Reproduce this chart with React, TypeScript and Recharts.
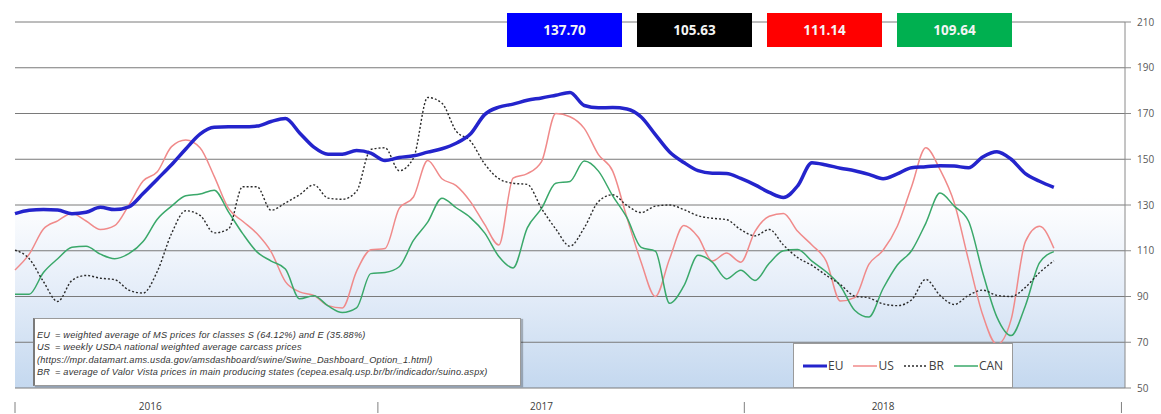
import { LineChart, Line, XAxis, YAxis, CartesianGrid } from "recharts";

// weekly prices, one point every 2 weeks starting week 0 of 2016
const WEEK_STEP = 2;

const eu = [
  126.2, 127.7, 128, 127.8, 126.2, 126.8, 129, 128, 129.2, 135,
  141.3, 147.6, 154.5, 161, 164, 164.2, 164.2, 164.5, 166.5, 167.8,
  161.5, 155.3, 152.2, 152.2, 153.8, 152.7, 149.4, 150.8, 151.5, 153.1,
  154.6, 157, 161, 169.5, 172.8, 174.1, 175.8, 176.8, 178, 179.2,
  173.5, 172.5, 172.6, 172, 168.5, 160.8, 153.2, 148.6, 145, 143.9,
  143.8, 141.6, 138.8, 135.5, 133.3, 138.4, 148.5, 147.5, 146.1, 145,
  143.4, 141.5, 143.6, 146.3, 146.7, 147.2, 147, 146.3, 151, 153.3,
  150, 143.7, 140.4, 137.7,
];

const us = [
  101.6, 108.5, 119.5, 123.1, 126.3, 123, 119.3, 121, 130, 140.5,
  144.5, 155.5, 158.4, 155, 142.5, 128.5, 122.9, 117.5, 109.5, 96.5,
  92, 90.5, 86, 85, 101, 110.4, 111, 128.5, 133.5, 149.5,
  141.5, 138.5, 131.5, 121.5, 112.5, 141.7, 143.7, 149, 170, 168.6,
  163.5, 152, 144.8, 124.5, 105, 90, 106.5, 121, 116, 105.5,
  109, 105, 118.5, 125.1, 126.3, 118.5, 112.5, 105.5, 88, 89.5,
  104, 110.2, 120.7, 138, 155, 145.5, 131, 106, 82, 69,
  80, 114, 120.7, 111.1,
];

const br = [
  110.3, 106.5, 96.5, 87.8, 97, 99.2, 98, 97.4, 92.8, 91.5,
  101, 117.5, 127.5, 125.5, 117.8, 119.5, 138, 138, 127.7, 130.9,
  134.5, 138.8, 133, 132.5, 136, 154.3, 155, 145, 150.5, 177,
  174.5, 162.3, 158, 148, 141.5, 139.5, 139, 128.5, 119.5, 112,
  120, 131.5, 134.5, 129.8, 126.7, 129.5, 130, 128, 125.3, 124.2,
  123.6, 119.2, 116.5, 119.3, 112.5, 107, 103.6, 99.3, 95.2, 90.2,
  89.4, 86.8, 86, 88.5, 97.5, 90.5, 86.5, 90.5, 92.8, 90.5,
  90, 94, 100.5, 105.6,
];

const can = [
  91, 91, 100.5, 106.5, 111.5, 112, 108.5, 106.5, 108.7, 114,
  123.8, 129.5, 134, 134.8, 136.5, 127, 117.5, 109.5, 105.5, 102,
  89, 90.3, 85.9, 83, 85, 100, 100.5, 103, 114.5, 122.5,
  133, 128.8, 124.5, 117.8, 107.5, 102.5, 120, 128.5, 139.5, 140.3,
  149.2, 144.8, 134, 124.5, 111.5, 109.8, 87, 94.6, 108, 105,
  97.7, 101.5, 97, 104.5, 110, 110.6, 105.5, 100.8, 94.6, 84,
  81, 93.5, 103.8, 110, 122, 135.2, 129.5, 123, 100.5, 81,
  72.9, 86, 104.8, 109.6,
];

const yTicks = [50, 70, 90, 110, 130, 150, 170, 190, 210];
const yearLabels = ["2016", "2017", "2018"];
const yearLabelWeeks = [19, 74, 122];
const yearBoundaryWeeks = [0, 51, 102.5, 155.5];

const lastValues = ["137.70", "105.63", "111.14", "109.64"];
const lastValueColors = ["#0000ff", "#000000", "#ff0000", "#00b050"];

const noteKeys = ["EU", "US", "", "BR"];
const noteTexts = [
  "= weighted average of MS prices for classes S (64.12%) and E (35.88%)",
  "= weekly USDA national weighted average carcass prices",
  "(https://mpr.datamart.ams.usda.gov/amsdashboard/swine/Swine_Dashboard_Option_1.html)",
  "= average of Valor Vista prices in main producing states (cepea.esalq.usp.br/br/indicador/suino.aspx)",
];

const series = [
  { key: "US", color: "#f08a8a", width: 1.5, dash: undefined },
  { key: "CAN", color: "#3aa86a", width: 1.5, dash: undefined },
  { key: "BR", color: "#2a2a2a", width: 1.4, dash: "2 2" },
  { key: "EU", color: "#2424cc", width: 3.5, dash: undefined },
];
const legendOrder = ["EU", "US", "BR", "CAN"];

const data = eu.map((v, i) => ({
  week: i * WEEK_STEP,
  EU: v,
  US: us[i],
  BR: br[i],
  CAN: can[i],
}));

const FONT = "'Open Sans', 'Liberation Sans', sans-serif";

function YearTick(props: any) {
  const { x, y, payload } = props;
  const idx = yearLabelWeeks.indexOf(payload.value);
  if (idx >= 0) {
    return (
      <text x={x} y={y + 14} textAnchor="middle" fontSize={10} fill="#404040" fontFamily={FONT}>
        {yearLabels[idx]}
      </text>
    );
  }
  return <line x1={x} x2={x} y1={y + 6} y2={y + 17} stroke="#808080" strokeWidth={1} />;
}

export default function App() {
  const allTicks = [...yearBoundaryWeeks, ...yearLabelWeeks].sort((a, b) => a - b);
  const seriesByKey = Object.fromEntries(series.map((s) => [s.key, s]));

  return (
    <div style={{ position: "absolute", left: 0, top: 0, width: 1161, height: 414, background: "#fff", fontFamily: FONT }}>
      {/* plot background gradient */}
      <div
        style={{
          position: "absolute",
          left: 15,
          top: 22,
          width: 1110,
          height: 366,
          background: "linear-gradient(to bottom, #ffffff 0%, #ffffff 48%, #e6eef9 72%, #c4d8ef 100%)",
        }}
      />

      <div style={{ position: "absolute", left: 0, top: 0 }}>
        <LineChart width={1161} height={414} data={data} margin={{ top: 22, right: 0, bottom: 0, left: 15 }}>
          <CartesianGrid vertical={false} stroke="#7a7a7a" strokeWidth={1} />
          <XAxis
            dataKey="week"
            type="number"
            domain={[0, 156]}
            ticks={allTicks}
            interval={0}
            tick={<YearTick />}
            tickLine={false}
            axisLine={false}
            height={26}
          />
          <YAxis
            orientation="right"
            domain={[50, 210]}
            ticks={yTicks}
            width={36}
            axisLine={{ stroke: "#8a8a8a" }}
            tickLine={{ stroke: "#8a8a8a" }}
            tickSize={6}
            tickMargin={6}
            tick={{ fontSize: 10, fill: "#595959", fontFamily: FONT }}
          />
          {series.map((s) => (
            <Line
              key={s.key}
              type="monotone"
              dataKey={s.key}
              stroke={s.color}
              strokeWidth={s.width}
              strokeDasharray={s.dash}
              dot={false}
              isAnimationActive={false}
            />
          ))}
        </LineChart>
      </div>

      {/* latest values */}
      {lastValues.map((v, i) => (
        <div
          key={v}
          style={{
            position: "absolute",
            left: 507 + i * 130,
            top: 13,
            width: 115,
            height: 34,
            background: lastValueColors[i],
            color: "#f4f4f4",
            fontWeight: 700,
            fontSize: 13.5,
            display: "flex",
            alignItems: "center",
            justifyContent: "center",
          }}
        >
          {v}
        </div>
      ))}

      {/* notes box */}
      <div
        style={{
          position: "absolute",
          left: 33,
          top: 318,
          width: 488,
          height: 68,
          background: "#fff",
          border: "1px solid #9a9a9a",
          borderLeft: "2px solid #7a7a7a",
          boxShadow: "2px 1px 1px rgba(0,0,0,0.25)",
          fontStyle: "italic",
          fontSize: 9.2,
          letterSpacing: 0.22,
          color: "#333",
          padding: "10px 2px 0 2px",
          boxSizing: "border-box",
          lineHeight: "12.3px",
          fontFamily: "'Liberation Sans', sans-serif",
        }}
      >
        {noteTexts.map((t, i) => (
          <div key={i} style={{ display: "flex", whiteSpace: "nowrap" }}>
            {noteKeys[i] !== "" && <span style={{ width: 18, display: "inline-block" }}>{noteKeys[i]}</span>}
            <span>{t}</span>
          </div>
        ))}
      </div>

      {/* legend */}
      <div
        style={{
          position: "absolute",
          left: 793,
          top: 343,
          width: 220,
          height: 45,
          background: "#fff",
          border: "1px solid #9a9a9a",
          boxSizing: "border-box",
          display: "flex",
          alignItems: "center",
          paddingLeft: 9,
          fontSize: 12,
          color: "#404040",
        }}
      >
        {legendOrder.map((k) => {
          const s = seriesByKey[k];
          return (
            <div key={k} style={{ display: "flex", alignItems: "center", marginRight: 10 }}>
              <svg width={24} height={8}>
                <line x1={0} x2={24} y1={4} y2={4} stroke={s.color} strokeWidth={Math.min(s.width, 3)} strokeDasharray={s.dash} />
              </svg>
              <span style={{ marginLeft: 1 }}>{k}</span>
            </div>
          );
        })}
      </div>
    </div>
  );
}
